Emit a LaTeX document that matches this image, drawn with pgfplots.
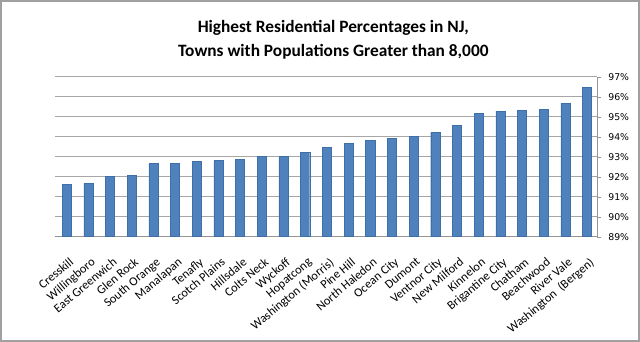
\documentclass[border=0pt]{standalone}
\usepackage{pgfplots}
\pgfplotsset{compat=1.18}
\usepackage{fontspec}
\setmainfont{Carlito}
\newfontfamily\dejavu{DejaVu Sans}
\definecolor{barblue}{HTML}{4F81BD}
\definecolor{baredge}{HTML}{3F6FA8}
\definecolor{gridgray}{HTML}{A6A6A6}
\definecolor{framegray}{HTML}{A0A0A0}
\begin{document}
\begin{tikzpicture}[x=1pt,y=1pt]
\useasboundingbox (0,0) rectangle (480,256.5);
\fill[white] (0,0) rectangle (480,256.5);
\draw[framegray, line width=1.2pt] (0.6,0.6) rectangle (479.4,255.9);
\node[align=center, font=\bfseries\fontsize{13}{18}\selectfont, anchor=center] at (250,227) {Highest Residential Percentages in NJ,\\Towns with Populations Greater than 8,000};
\begin{axis}[
  at={(41.25pt,79pt)}, anchor=south west,
  scale only axis, width=406.5pt, height=120pt,
  ymin=89, ymax=97,
  ytick={89,90,...,97},
  xmin=-0.54, xmax=24.46,
  xtick=data,
  xticklabels={Cresskill,Willingboro,East Greenwich,Glen Rock,South Orange,Manalapan,Tenafly,Scotch Plains,Hillsdale,Colts Neck,Wyckoff,Hopatcong,Washington (Morris),Pine Hill,North Haledon,Ocean City,Dumont,Ventnor City,New Milford,Kinnelon,Brigantine City,Chatham,Beachwood,River Vale,Washington\ \ (Bergen)},
  x tick label style={yshift=-12pt, xshift=1.5pt, rotate=40, anchor=north east, font=\fontsize{9.3}{10}\selectfont, inner sep=0pt},
  axis x line*=bottom,
  axis y line*=right,
  x axis line style={draw=gridgray!90!black, -},
  y axis line style={draw=gridgray!90!black, -},
  xtick style={draw=none},
  ytick style={draw=gridgray!90!black},
  tick align=outside,
  major tick length=3pt,
  ymajorgrids,
  grid style={gridgray, line width=0.6pt},
  /pgf/number format/assume math mode=true,
  yticklabel={\pgfmathprintnumber{\tick}\%},
  y tick label style={font=\dejavu\fontsize{7}{8}\selectfont, xshift=2pt},
  ybar, bar width=6.8pt,
  clip=false,
]
\addplot[fill=barblue, draw=baredge, line width=0.3pt] coordinates {
(0,91.63) (1,91.68) (2,92.02) (3,92.08) (4,92.65) (5,92.65) (6,92.77) (7,92.80) (8,92.85) (9,93.00) (10,93.00) (11,93.22) (12,93.48) (13,93.65) (14,93.83) (15,93.93) (16,94.00) (17,94.20) (18,94.55) (19,95.15) (20,95.28) (21,95.33) (22,95.38) (23,95.68) (24,96.45)
};
\end{axis}
\end{tikzpicture}
\end{document}
